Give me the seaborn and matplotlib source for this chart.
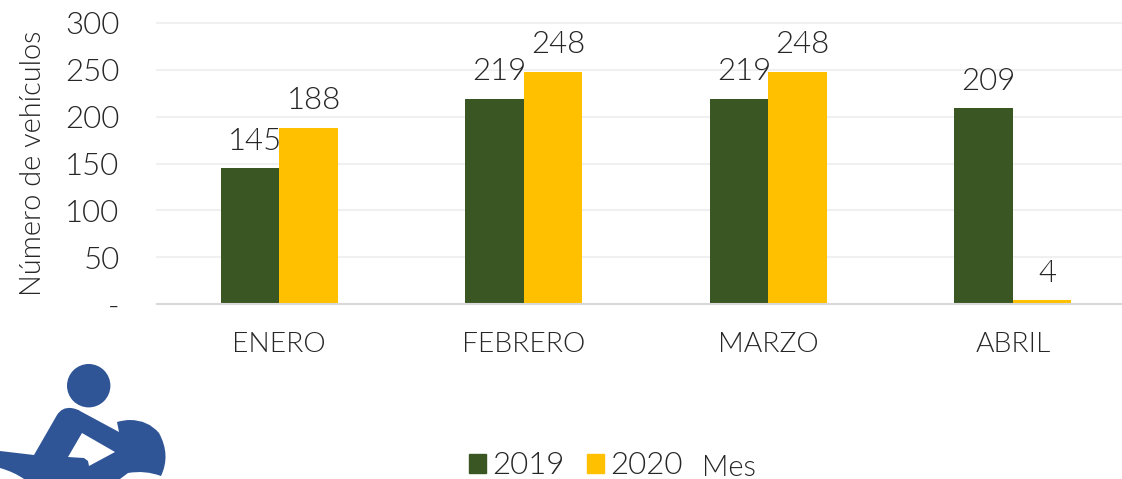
import matplotlib
matplotlib.use("Agg")
import matplotlib.pyplot as plt
from matplotlib.patches import Circle, PathPatch, Polygon, Patch
from matplotlib.path import Path
import pandas as pd
import seaborn as sns

meses = ["ENERO", "FEBRERO", "MARZO", "ABRIL"]
valores_2019 = [145, 219, 219, 209]
valores_2020 = [188, 248, 248, 4]
y_ticks = [0, 50, 100, 150, 200, 250, 300]
y_labels = ["-", "50", "100", "150", "200", "250", "300"]

W, H = 1122, 479
VERDE = "#3a5723"
AMARILLO = "#ffc000"
AZUL = "#2f5597"
TEXTO = "#262626"

sns.set_theme(style="white")
plt.rcParams["font.family"] = ["Lato", "DejaVu Sans"]
plt.rcParams["font.weight"] = 300

df = pd.DataFrame({
    "Mes": meses * 2,
    "Año": ["2019"] * 4 + ["2020"] * 4,
    "Vehiculos": valores_2019 + valores_2020,
})

fig = plt.figure(figsize=(W / 100, H / 100), dpi=100)
ax = fig.add_axes([157 / W, 1 - 304 / H, 978 / W, 281 / H])

sns.barplot(data=df, x="Mes", y="Vehiculos", hue="Año", order=meses,
            palette=[VERDE, AMARILLO], width=0.48, gap=0, saturation=1,
            linewidth=0, legend=False, ax=ax)

ax.set_xlim(-0.5, 3.5)
ax.set_ylim(0, 300)
ax.set_yticks(y_ticks)
ax.set_yticklabels(y_labels)
ax.grid(axis="y", color="#f0f0f0", linewidth=1.5, clip_on=False)
ax.set_axisbelow(True)
sns.despine(ax=ax, left=True)
ax.spines["bottom"].set_color("#d9d9d9")
ax.spines["bottom"].set_linewidth(1.5)
ax.tick_params(axis="y", length=0, pad=27, labelsize=22.5, labelcolor=TEXTO)
ax.tick_params(axis="x", length=0, pad=20, labelsize=20.3, labelcolor=TEXTO)
ax.set_ylabel("Número de vehículos", fontsize=20.8, color=TEXTO, fontweight=300)
ax.yaxis.set_label_coords((46 - 157) / 978, 0.5)
ax.set_xlabel("")

# etiquetas un poco corridas a la derecha, como en el original
for cont in ax.containers[:2]:
    for bar in cont:
        ax.annotate(f"{bar.get_height():.0f}",
                    (bar.get_x() + bar.get_width() / 2, bar.get_height()),
                    xytext=(3.6, 9), textcoords="offset points",
                    ha="center", va="bottom", fontsize=22.5, color=TEXTO)

# leyenda y "Mes" en la misma linea
leg = fig.legend(handles=[Patch(color=VERDE, label="2019"), Patch(color=AMARILLO, label="2020")],
                 loc="center left", bbox_to_anchor=(469 / W, 1 - 466 / H), ncol=2, frameon=False,
                 fontsize=22.5, labelcolor=TEXTO, handlelength=0.55, handleheight=0.55,
                 handletextpad=0.2, columnspacing=0.7, borderpad=0, borderaxespad=0)
fig.text(702 / W, 1 - 468 / H, "Mes", fontsize=21, color=TEXTO, va="center")

# icono de la moto, en pixeles de la figura
iax = fig.add_axes([0, 0, 1, 1])
iax.set_xlim(0, W)
iax.set_ylim(H, 0)
iax.axis("off")
iax.patch.set_alpha(0)
iax.add_patch(Circle((88.7, 385.7), 21.7, color=AZUL, lw=0))
M, L, C = Path.MOVETO, Path.LINETO, Path.CURVE3
verts = [(0, 451), (34, 455), (57, 415), (62, 407), (71, 408), (78, 409), (80, 411),
         (119, 432), (117, 422), (124, 420), (130, 420), (148, 420), (159, 433), (171, 455), (161, 476),
         (145, 470), (128, 473), (120, 479), (24, 479), (14, 472), (0, 468), (0, 451)]
codes = [M, L, L, C, C, C, C, L, L, C, C, C, C, C, C, C, C, L, L, C, C, L]
iax.add_patch(PathPatch(Path(verts, codes), facecolor=AZUL, edgecolor="none"))
iax.add_patch(Polygon([(82, 433), (115, 452), (89, 466), (88, 461), (84, 458), (68, 457)],
                      facecolor="white", edgecolor="none"))

fig.savefig("out.png", dpi=100)
